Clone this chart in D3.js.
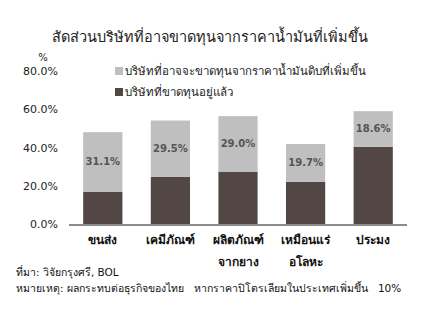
<!DOCTYPE html>
<html>
<head>
<meta charset="utf-8">
<script src="https://cdn.jsdelivr.net/npm/d3@7"></script>
<style>
  body { margin: 0; background: #fff; }
  text { font-family: Tahoma, "DejaVu Sans", sans-serif; }
</style>
</head>
<body>
<div id="chart"></div>
<script>
const categories = [["ขนส่ง"], ["เคมีภัณฑ์"], ["ผลิตภัณฑ์", "จากยาง"], ["เหมือนแร่", "อโลหะ"], ["ประมง"]];
const lossNow = [16.9, 24.6, 27.4, 22.1, 40.4];
const lossRisk = [31.1, 29.5, 29.0, 19.7, 18.6];
const yTicks = [0, 20, 40, 60, 80];
const seriesNames = ["บริษัทที่อาจจะขาดทุนจากราคาน้ำมันดิบที่เพิ่มขึ้น", "บริษัทที่ขาดทุนอยู่แล้ว"];

const width = 433, height = 315;
const margin = {top: 71, right: 26, bottom: 91, left: 69};

const svg = d3.select("#chart").append("svg")
  .attr("width", width)
  .attr("height", height);

const x = d3.scaleBand()
  .domain(d3.range(categories.length))
  .range([margin.left, width - margin.right])
  .paddingInner(0.42)
  .paddingOuter(0.21);

const y = d3.scaleLinear()
  .domain([0, 80])
  .range([height - margin.bottom, margin.top]);

// title
svg.append("text")
  .attr("x", 210).attr("y", 42)
  .attr("text-anchor", "middle")
  .attr("font-size", 14.5)
  .attr("fill", "#222")
  .text("สัดส่วนบริษัทที่อาจขาดทุนจากราคาน้ำมันที่เพิ่มขึ้น");

// y axis labels
svg.append("g")
  .attr("transform", `translate(${margin.left - 11},0)`)
  .call(d3.axisLeft(y).tickValues(yTicks).tickFormat(d => d.toFixed(1) + "%").tickSize(0).tickPadding(0))
  .call(g => g.select(".domain").remove())
  .call(g => g.selectAll("text").attr("font-size", 11).attr("fill", "#222")
    .style("font-family", "Tahoma, 'DejaVu Sans', sans-serif"));

svg.append("text")
  .attr("x", 43).attr("y", 61)
  .attr("text-anchor", "middle")
  .attr("font-size", 10)
  .attr("fill", "#222")
  .text("%");

// bars
const g = svg.append("g");
g.selectAll(".dark").data(lossNow).join("rect")
  .attr("x", (d, i) => x(i))
  .attr("width", x.bandwidth())
  .attr("y", d => y(d))
  .attr("height", d => y(0) - y(d))
  .attr("fill", "#524745");

g.selectAll(".light").data(lossRisk).join("rect")
  .attr("x", (d, i) => x(i))
  .attr("width", x.bandwidth())
  .attr("y", (d, i) => y(lossNow[i] + d))
  .attr("height", d => y(0) - y(d))
  .attr("fill", "#bfbfbf");

g.selectAll(".lbl").data(lossRisk).join("text")
  .attr("x", (d, i) => x(i) + x.bandwidth() / 2)
  .attr("y", (d, i) => y(lossNow[i] + d / 2))
  .attr("dy", "0.35em")
  .attr("text-anchor", "middle")
  .attr("font-size", 10)
  .attr("font-weight", "bold")
  .attr("fill", "#555")
  .text(d => d.toFixed(1) + "%");

// x axis line
svg.append("line")
  .attr("x1", margin.left).attr("x2", width - margin.right)
  .attr("y1", y(0) + 1).attr("y2", y(0) + 1)
  .attr("stroke", "#8c8c8c")
  .attr("stroke-width", 2);

// category labels
const cat = svg.selectAll(".cat").data(categories).join("text")
  .attr("x", (d, i) => x(i) + x.bandwidth() / 2)
  .attr("y", 244)
  .attr("text-anchor", "middle")
  .attr("font-size", 12)
  .attr("font-weight", "bold")
  .attr("fill", "#111");
cat.selectAll("tspan").data(d => d).join("tspan")
  .attr("x", function() { return this.parentNode.getAttribute("x"); })
  .attr("dy", (d, i) => i === 0 ? 0 : 22)
  .text(d => d);

// legend
const legendColors = ["#bfbfbf", "#524745"];
const leg = svg.selectAll(".leg").data(seriesNames).join("g")
  .attr("transform", (d, i) => `translate(115,${71 + i * 21})`);
leg.append("rect")
  .attr("x", 0).attr("y", -4)
  .attr("width", 8).attr("height", 8)
  .attr("fill", (d, i) => legendColors[i]);
leg.append("text")
  .attr("x", 10).attr("dy", "0.35em")
  .attr("font-size", 11.5)
  .attr("fill", "#222")
  .text(d => d);

// footnotes
svg.append("text")
  .attr("x", 16).attr("y", 276)
  .attr("font-size", 10.5)
  .attr("fill", "#111")
  .text("ที่มา: วิจัยกรุงศรี, BOL");
svg.append("text")
  .attr("x", 16).attr("y", 292)
  .attr("font-size", 10.5)
  .attr("fill", "#111")
  .attr("xml:space", "preserve")
  .style("white-space", "pre")
  .text("หมายเหตุ: ผลกระทบต่อธุรกิจของไทย   หากราคาปิโตรเลียมในประเทศเพิ่มขึ้น   10%");
</script>
</body>
</html>
